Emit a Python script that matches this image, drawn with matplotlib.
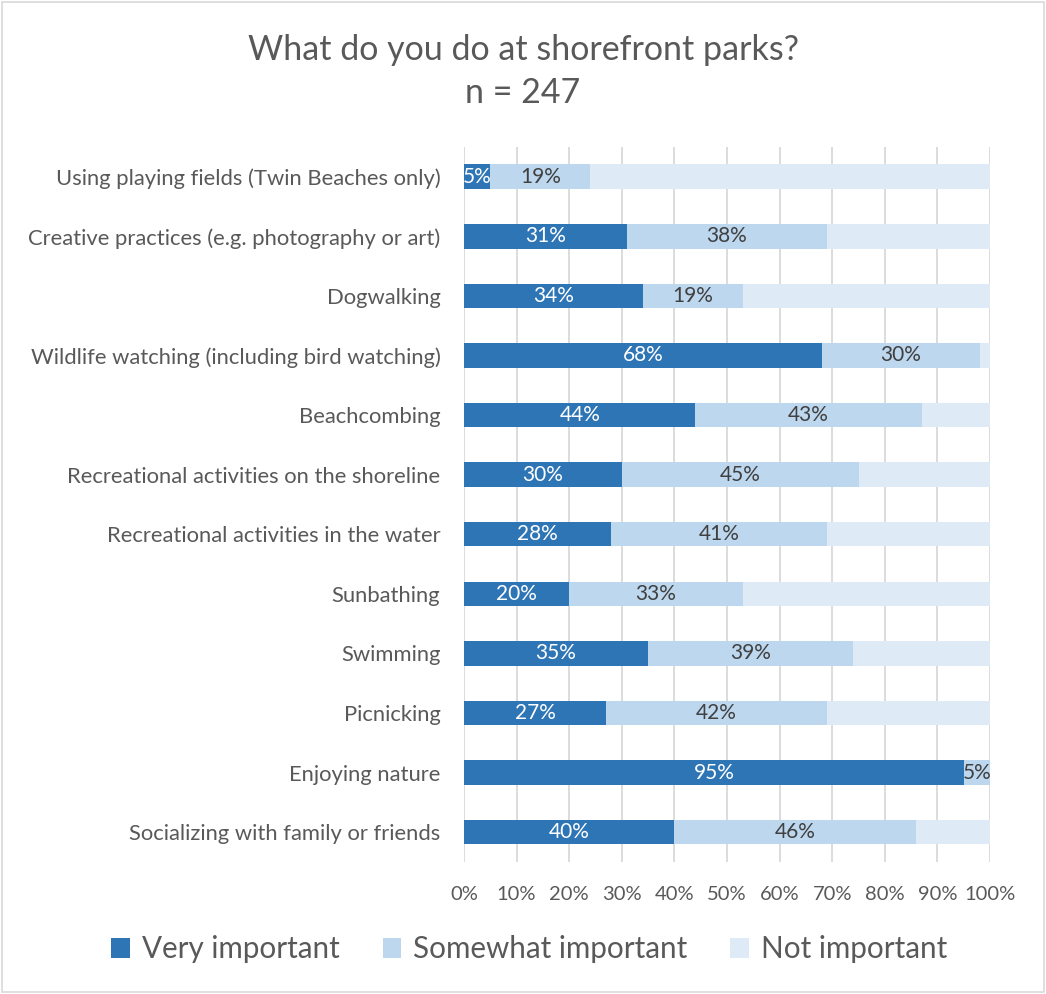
import numpy as np
import matplotlib.pyplot as plt
from matplotlib.patches import Rectangle

plt.rcParams['font.family'] = ['Lato', 'DejaVu Sans']

# survey answers, top row first
activities = [
    'Using playing fields (Twin Beaches only)',
    'Creative practices (e.g. photography or art)',
    'Dogwalking',
    'Wildlife watching (including bird watching)',
    'Beachcombing',
    'Recreational activities on the shoreline',
    'Recreational activities in the water',
    'Sunbathing',
    'Swimming',
    'Picnicking',
    'Enjoying nature',
    'Socializing with family or friends',
]
very_important = [5, 31, 34, 68, 44, 30, 28, 20, 35, 27, 95, 40]
somewhat_important = [19, 38, 19, 30, 43, 45, 41, 33, 39, 42, 5, 46]
not_important = [100 - v - s for v, s in zip(very_important, somewhat_important)]

c_very = '#2E75B6'
c_some = '#BDD7EE'
c_not = '#DEEBF7'
txt = '#595959'

fig = plt.figure(figsize=(10.46, 9.94), dpi=100)
ax = fig.add_axes([0.4436, 0.1328, 0.5029, 0.7194])

y = np.arange(len(activities))
h = 0.41
b1 = ax.barh(y, very_important, height=h, color=c_very, label='Very important', zorder=3)
b2 = ax.barh(y, somewhat_important, left=very_important, height=h, color=c_some,
             label='Somewhat important', zorder=3)
left3 = np.array(very_important) + np.array(somewhat_important)
b3 = ax.barh(y, not_important, left=left3, height=h, color=c_not,
             label='Not important', zorder=3)

for i in range(len(activities)):
    v, s = very_important[i], somewhat_important[i]
    ax.text(v / 2, y[i], f'{v}%', ha='center', va='center', color='white',
            fontsize=15, zorder=4)
    ax.text(v + s / 2, y[i], f'{s}%', ha='center', va='center', color='#404040',
            fontsize=15, zorder=4)

ax.set_xlim(0, 100)
ax.set_ylim(len(activities) - 0.5, -0.5)
ax.set_xticks(np.arange(0, 101, 10))
ax.set_xticklabels([f'{t}%' for t in range(0, 101, 10)], fontsize=14.5, color=txt)
ax.set_yticks(y)
ax.set_yticklabels(activities, fontsize=15.8, color=txt)
ax.tick_params(axis='both', length=0)
ax.tick_params(axis='x', pad=17)
ax.tick_params(axis='y', pad=17)
ax.grid(axis='x', color='#d9d9d9', linewidth=1.3, zorder=0)
for sp in ax.spines.values():
    sp.set_visible(False)

fig.text(0.5, 0.928, 'What do you do at shorefront parks?\nn = 247', ha='center',
         va='center', fontsize=24.5, color=txt, linespacing=1.4)

leg = fig.legend(handles=[b1, b2, b3], loc='center', bbox_to_anchor=(0.506, 0.045),
                 ncol=3, frameon=False, fontsize=21.3, handlelength=0.64,
                 handleheight=0.64, handletextpad=0.4, columnspacing=1.45)
for t in leg.get_texts():
    t.set_color(txt)

fig.patches.append(Rectangle((0.002, 0.002), 0.996, 0.996, transform=fig.transFigure,
                             fill=False, edgecolor='#d9d9d9', linewidth=1.2))

fig.savefig('out.png', dpi=100)
